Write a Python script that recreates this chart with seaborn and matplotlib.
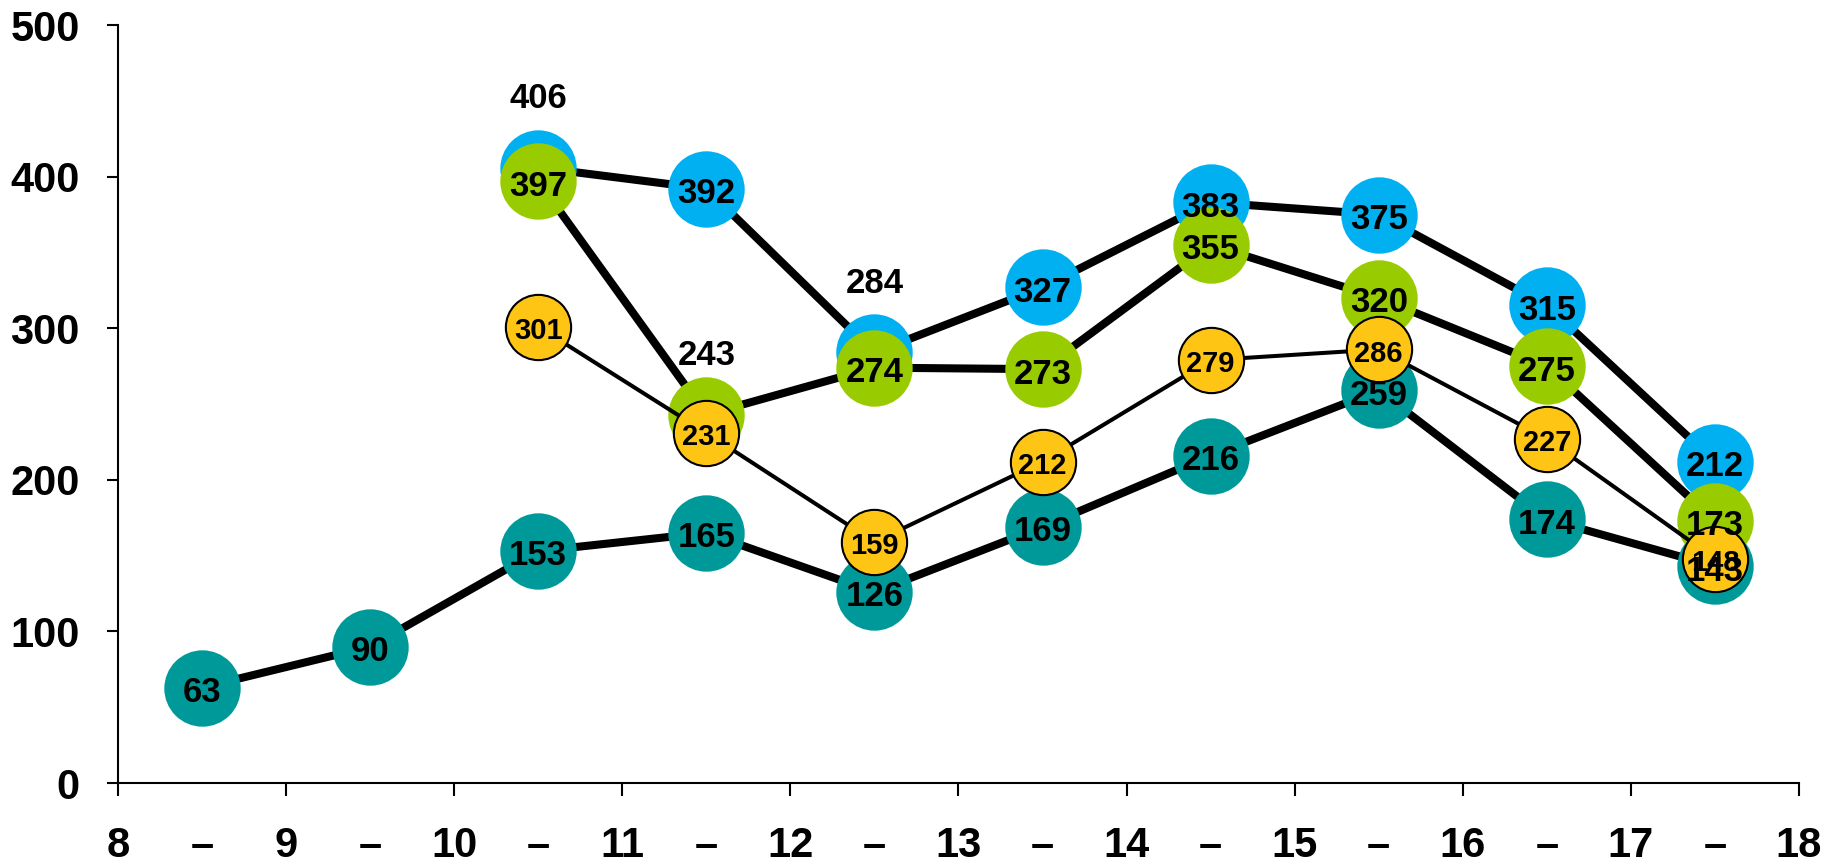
import numpy as np
import pandas as pd
import matplotlib.pyplot as plt
import seaborn as sns

# hourly slots 8-9 ... 17-18, values plotted at the middle of each slot
start_hours = [8, 9, 10, 11, 12, 13, 14, 15, 16, 17]
teal_vals = [63, 90, 153, 165, 126, 169, 216, 259, 174, 143]
blue_vals = [np.nan, np.nan, 406, 392, 284, 327, 383, 375, 315, 212]
green_vals = [np.nan, np.nan, 397, 243, 274, 273, 355, 320, 275, 173]
yellow_vals = [np.nan, np.nan, 301, 231, 159, 212, 279, 286, 227, 148]
tick_hours = list(range(8, 19))
y_ticks = [0, 100, 200, 300, 400, 500]

# labels that sit above their marker instead of inside it (offset in points)
labels_above = {('blue', 10): 52, ('blue', 12): 52, ('green', 11): 45}

series = [
    ('teal', teal_vals, '#009999', 5.8, 55, 0, 25),
    ('blue', blue_vals, '#00B0F0', 5.8, 55, 0, 25),
    ('green', green_vals, '#99CC00', 5.8, 55, 0, 25),
    ('yellow', yellow_vals, '#FFC514', 2.9, 47, 1.5, 21),
]

sns.set_style('ticks')
plt.rcParams['font.family'] = ['Liberation Sans', 'DejaVu Sans']
plt.rcParams['text.color'] = 'black'
plt.rcParams['xtick.color'] = 'black'
plt.rcParams['ytick.color'] = 'black'

fig = plt.figure(figsize=(18.37, 8.66), dpi=100)
ax = fig.add_axes([0.0642, 0.0958, 0.9151, 0.8753])

for name, vals, color, lw, ms, mew, _ in series:
    df = pd.DataFrame({'x': [h + 0.5 for h in start_hours], 'v': vals}).dropna()
    sns.lineplot(data=df, x='x', y='v', ax=ax, color='black', linewidth=lw,
                 marker='o', markersize=ms, markerfacecolor=color,
                 markeredgecolor='black', markeredgewidth=mew)

for name, vals, color, lw, ms, mew, fs in series:
    for h, v in zip(start_hours, vals):
        if np.isnan(v):
            continue
        off = labels_above.get((name, h), -1)
        ax.annotate(str(int(v)), (h + 0.5, v), xytext=(0, off), textcoords='offset points',
                    ha='center', va='center_baseline', fontsize=fs, fontweight='bold',
                    color='black', zorder=10)

ax.set_xlim(8, 18)
ax.set_ylim(0, 500)
ax.set_xticks(tick_hours)
ax.set_xticklabels([str(h) for h in tick_hours])
ax.set_xticks([h + 0.5 for h in start_hours], minor=True)
ax.set_xticklabels(['–'] * len(start_hours), minor=True)
ax.set_yticks(y_ticks)
ax.set_yticklabels([str(t) for t in y_ticks])
ax.set_xlabel('')
ax.set_ylabel('')

ax.tick_params(axis='x', which='major', length=9.5, width=1.5, pad=21.5, labelsize=30)
ax.tick_params(axis='x', which='minor', length=0, pad=31, labelsize=30)
ax.tick_params(axis='y', length=8, width=1.5, pad=19.5, labelsize=30)
for lab in ax.get_xticklabels(which='both') + ax.get_yticklabels():
    lab.set_fontweight('bold')

sns.despine(ax=ax)
for side in ['left', 'bottom']:
    ax.spines[side].set_linewidth(1.5)
    ax.spines[side].set_color('black')

fig.savefig('out.png', dpi=100)
